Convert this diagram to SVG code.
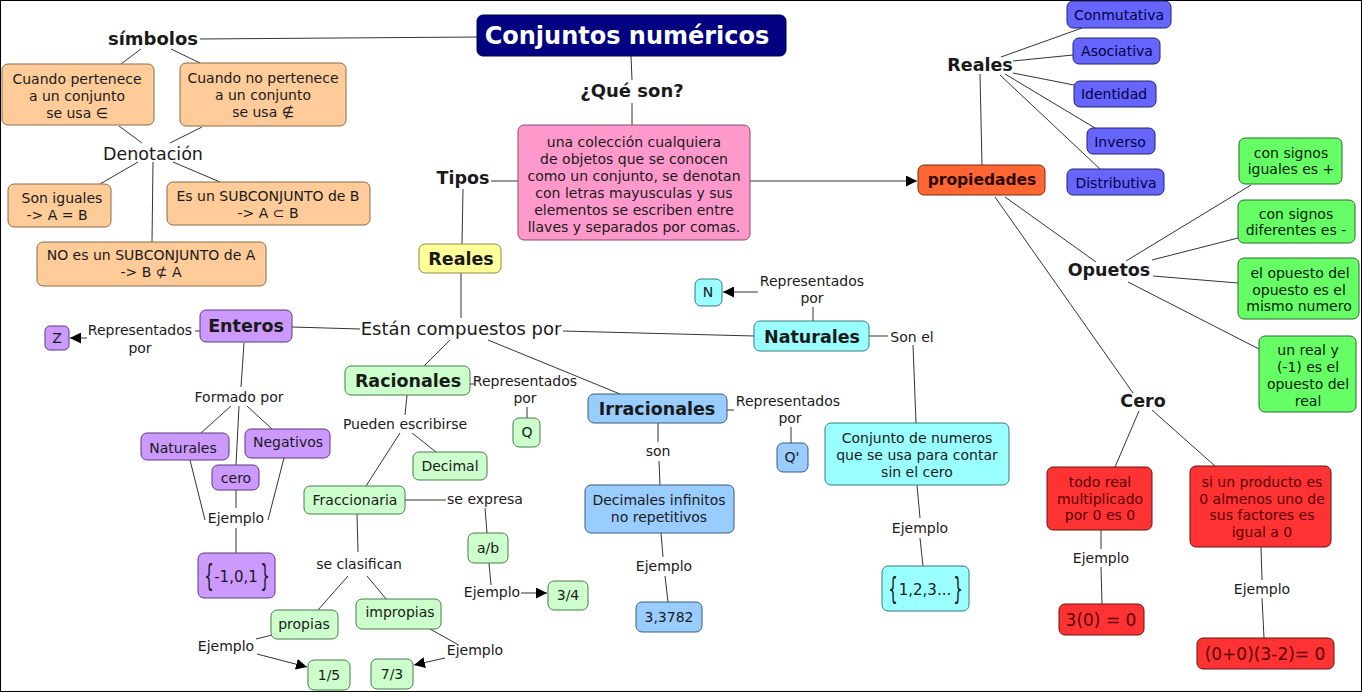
<svg xmlns="http://www.w3.org/2000/svg" width="1362" height="692" viewBox="0 0 1362 692">
<style>
text{font-family:"DejaVu Sans","Verdana",sans-serif;fill:#1a1a1a;text-anchor:middle}
.s{font-size:14px}
.s15{font-size:15px}
.m{font-size:17.5px}
.b{font-size:17.5px;font-weight:bold}
.big{font-size:17px}
.br{font-size:15px;font-weight:normal}
.title{font-size:24px;font-weight:bold;fill:#fff}
rect{stroke-width:1}
.peach{fill:#FFCC99;stroke:#8a6a4a}
.pink{fill:#FF99CC;stroke:#8a4a6a}
.yel{fill:#FFFF99;stroke:#8a8a4a}
.pur{fill:#CC99FF;stroke:#5a3a7a}
.lgr{fill:#CCFFCC;stroke:#4a7a4a}
.lbl{fill:#99CCFF;stroke:#3a5a7a}
.cy{fill:#99FFFF;stroke:#3a7a7a}
.blu{fill:#6666FF;stroke:#222266}
.org{fill:#FF6633;stroke:#7a2a10}
.grn{fill:#66FF66;stroke:#2a6a2a}
.red{fill:#FF3333;stroke:#6a1010}
.nav{fill:#000080;stroke:#000040}
.tb{fill:#000044}
.tr{fill:#5a0000}
.tg{fill:#002200}
#connectors line{stroke:#333;stroke-width:1;fill:none}
.arr{marker-end:url(#ah)}
</style>
<defs>
<marker id="ah" viewBox="0 0 10 10" refX="10" refY="5" markerWidth="11" markerHeight="11" markerUnits="userSpaceOnUse" orient="auto">
<path d="M0,0 L10,5 L0,10 z" fill="#000"/>
</marker>
</defs>
<rect x="0.5" y="0.5" width="1361" height="691" fill="#fff" stroke="#000" stroke-width="1"/>

<g id="connectors">
<line x1="200" y1="39" x2="477" y2="37"/>
<line x1="141" y1="49" x2="121" y2="64"/>
<line x1="171" y1="49" x2="200" y2="63"/>
<line x1="119" y1="126" x2="142" y2="143"/>
<line x1="202" y1="127" x2="170" y2="143"/>
<line x1="138" y1="162" x2="100" y2="184"/>
<line x1="153" y1="162" x2="152" y2="242"/>
<line x1="173" y1="162" x2="220" y2="182"/>
<line x1="631" y1="56" x2="632" y2="80"/>
<line x1="632" y1="103" x2="632" y2="125"/>
<line x1="491" y1="181" x2="518" y2="181"/>
<line x1="750" y1="181" x2="917" y2="181" class="arr"/>
<line x1="463" y1="189" x2="462" y2="244"/>
<line x1="461" y1="273" x2="461" y2="318"/>
<line x1="360" y1="329" x2="292" y2="327"/>
<line x1="563" y1="331" x2="754" y2="336"/>
<line x1="450" y1="340" x2="424" y2="366"/>
<line x1="488" y1="340" x2="620" y2="394"/>
<line x1="200" y1="331" x2="195" y2="331"/>
<line x1="87" y1="338" x2="70" y2="338" class="arr"/>
<line x1="244" y1="343" x2="241" y2="387"/>
<line x1="231" y1="406" x2="201" y2="433"/>
<line x1="239" y1="406" x2="236" y2="465"/>
<line x1="247" y1="406" x2="272" y2="429"/>
<line x1="190" y1="460" x2="205" y2="520"/>
<line x1="284" y1="458" x2="268" y2="520"/>
<line x1="236" y1="490" x2="236" y2="508"/>
<line x1="236" y1="528" x2="236" y2="553"/>
<line x1="470" y1="384" x2="474" y2="384"/>
<line x1="527" y1="407" x2="527" y2="418"/>
<line x1="407" y1="395" x2="405" y2="415"/>
<line x1="400" y1="433" x2="366" y2="486"/>
<line x1="412" y1="433" x2="436" y2="452"/>
<line x1="405" y1="500" x2="446" y2="500"/>
<line x1="485" y1="508" x2="487" y2="533"/>
<line x1="489" y1="563" x2="491" y2="585"/>
<line x1="521" y1="593" x2="547" y2="593" class="arr"/>
<line x1="357" y1="514" x2="358" y2="552"/>
<line x1="348" y1="576" x2="318" y2="610"/>
<line x1="367" y1="576" x2="387" y2="600"/>
<line x1="272" y1="635" x2="256" y2="639"/>
<line x1="257" y1="654" x2="307" y2="667" class="arr"/>
<line x1="430" y1="629" x2="457" y2="644"/>
<line x1="445" y1="658" x2="414" y2="665" class="arr"/>
<line x1="727" y1="410" x2="734" y2="410"/>
<line x1="791" y1="427" x2="791" y2="443"/>
<line x1="658" y1="423" x2="658" y2="442"/>
<line x1="659" y1="461" x2="660" y2="485"/>
<line x1="661" y1="533" x2="663" y2="557"/>
<line x1="665" y1="576" x2="668" y2="602"/>
<line x1="813" y1="307" x2="813" y2="321"/>
<line x1="758" y1="292" x2="723" y2="292" class="arr"/>
<line x1="869" y1="336" x2="888" y2="336"/>
<line x1="913" y1="345" x2="916" y2="423"/>
<line x1="917" y1="485" x2="920" y2="518"/>
<line x1="920" y1="538" x2="923" y2="566"/>
<line x1="1001" y1="57" x2="1082" y2="28"/>
<line x1="1013" y1="61" x2="1073" y2="55"/>
<line x1="1013" y1="73" x2="1074" y2="85"/>
<line x1="1005" y1="74" x2="1095" y2="128"/>
<line x1="1000" y1="75" x2="1100" y2="169"/>
<line x1="980" y1="74" x2="982" y2="165"/>
<line x1="1005" y1="197" x2="1096" y2="262"/>
<line x1="995" y1="197" x2="1133" y2="393"/>
<line x1="1126" y1="261" x2="1251" y2="185"/>
<line x1="1152" y1="260" x2="1238" y2="238"/>
<line x1="1153" y1="276" x2="1238" y2="283"/>
<line x1="1128" y1="282" x2="1259" y2="349"/>
<line x1="1139" y1="411" x2="1115" y2="467"/>
<line x1="1152" y1="410" x2="1215" y2="466"/>
<line x1="1101" y1="530" x2="1101" y2="549"/>
<line x1="1101" y1="567" x2="1102" y2="604"/>
<line x1="1261" y1="547" x2="1262" y2="580"/>
<line x1="1262" y1="598" x2="1264" y2="638"/>
</g>

<g id="title"><rect class="nav" x="477" y="15" width="309" height="41" rx="6"/><text class="title" x="627" y="44">Conjuntos numéricos</text></g>
<g id="simbolos"><text class="b" x="153" y="45" style="font-size:18px">símbolos</text></g>
<g id="pertenece"><rect class="peach" x="2" y="64" width="152" height="61" rx="6"/><text class="s" x="77" y="84">Cuando pertenece</text><text class="s" x="77" y="101">a un conjunto</text><text class="s" x="77" y="118">se usa ∈</text></g>
<g id="nopertenece"><rect class="peach" x="180" y="63" width="166" height="63" rx="6"/><text class="s" x="263" y="83">Cuando no pertenece</text><text class="s" x="263" y="100">a un conjunto</text><text class="s" x="263" y="117">se usa ∉</text></g>
<g id="denotacion"><text class="m" x="153" y="160">Denotación</text></g>
<g id="iguales"><rect class="peach" x="8" y="184" width="103" height="43" rx="6"/><text class="s" x="62" y="203">Son iguales</text><text class="s" x="57" y="220">-&gt; A = B</text></g>
<g id="subB"><rect class="peach" x="167" y="182" width="203" height="43" rx="6"/><text class="s" x="268" y="201">Es un SUBCONJUNTO de B</text><text class="s" x="268" y="218">-&gt; A ⊂ B</text></g>
<g id="nosubA"><rect class="peach" x="37" y="242" width="229" height="44" rx="6"/><text class="s" x="151" y="260">NO es un SUBCONJUNTO de A</text><text class="s" x="151" y="277">-&gt; B ⊄ A</text></g>

<g id="queson"><text class="b" x="632" y="97" style="font-size:18px">¿Qué son?</text></g>
<g id="definicion"><rect class="pink" x="518" y="125" width="232" height="115" rx="6"/>
<text class="s" x="634" y="147">una colección cualquiera</text>
<text class="s" x="634" y="164">de objetos que se conocen</text>
<text class="s" x="634" y="181">como un conjunto, se denotan</text>
<text class="s" x="634" y="198">con letras mayusculas y sus</text>
<text class="s" x="634" y="215">elementos se escriben entre</text>
<text class="s" x="634" y="232">llaves y separados por comas.</text></g>
<g id="tipos"><text class="b" x="463" y="184">Tipos</text></g>
<g id="reales"><rect class="yel" x="419" y="244" width="82" height="29" rx="6"/><text class="b" x="461" y="265">Reales</text></g>
<g id="compuestos"><text class="m" x="461" y="335" style="font-size:18px">Están compuestos por</text></g>

<g id="enteros"><rect class="pur" x="200" y="310" width="92" height="32" rx="6"/><text class="b" x="246" y="332">Enteros</text></g>
<g id="repZ"><text class="s" x="140" y="335">Representados</text><text class="s" x="140" y="353">por</text></g>
<g id="Z"><rect class="pur" x="45" y="326" width="24" height="24" rx="5"/><text class="s" x="57" y="343">Z</text></g>
<g id="formado"><text class="s" x="239" y="402">Formado por</text></g>
<g id="natE"><rect class="pur" x="141" y="433" width="88" height="27" rx="6"/><text class="s" x="183" y="453">Naturales</text></g>
<g id="neg"><rect class="pur" x="245" y="429" width="85" height="29" rx="6"/><text class="s" x="288" y="447">Negativos</text></g>
<g id="cero"><rect class="pur" x="212" y="465" width="47" height="25" rx="6"/><text class="s" x="236" y="483">cero</text></g>
<g id="ejE"><text class="s" x="236" y="523">Ejemplo</text></g>
<g id="ejEbox"><rect class="pur" x="198" y="553" width="77" height="45" rx="6"/><text class="br" transform="translate(209,586) scale(1,2)">{</text><text class="s15" x="236" y="582">-1,0,1</text><text class="br" transform="translate(265,586) scale(1,2)">}</text></g>

<g id="racionales"><rect class="lgr" x="345" y="366" width="125" height="29" rx="6"/><text class="b" x="408" y="387">Racionales</text></g>
<g id="repQ"><text class="s" x="525" y="386">Representados</text><text class="s" x="525" y="403">por</text></g>
<g id="Q"><rect class="lgr" x="513" y="418" width="27" height="29" rx="6"/><text class="s" x="527" y="437">Q</text></g>
<g id="pueden"><text class="s" x="405" y="429">Pueden escribirse</text></g>
<g id="decimal"><rect class="lgr" x="413" y="452" width="74" height="28" rx="6"/><text class="s" x="450" y="471">Decimal</text></g>
<g id="fracc"><rect class="lgr" x="304" y="486" width="101" height="28" rx="6"/><text class="s" x="355" y="505">Fraccionaria</text></g>
<g id="seexpresa"><text class="s" x="485" y="504">se expresa</text></g>
<g id="ab"><rect class="lgr" x="468" y="533" width="40" height="30" rx="6"/><text class="s" x="488" y="553">a/b</text></g>
<g id="ejab"><text class="s" x="492" y="597">Ejemplo</text></g>
<g id="tres4"><rect class="lgr" x="548" y="581" width="40" height="29" rx="6"/><text class="s" x="568" y="600">3/4</text></g>
<g id="seclas"><text class="s" x="359" y="569">se clasifican</text></g>
<g id="propias"><rect class="lgr" x="271" y="610" width="67" height="29" rx="6"/><text class="s" x="304" y="629">propias</text></g>
<g id="impropias"><rect class="lgr" x="356" y="599" width="85" height="30" rx="6"/><text class="s" x="400" y="617">impropias</text></g>
<g id="ejprop"><text class="s" x="226" y="651">Ejemplo</text></g>
<g id="ejimp"><text class="s" x="475" y="655">Ejemplo</text></g>
<g id="unquinto"><rect class="lgr" x="308" y="660" width="42" height="30" rx="6"/><text class="s" x="329" y="680">1/5</text></g>
<g id="sietetercios"><rect class="lgr" x="371" y="659" width="42" height="30" rx="6"/><text class="s" x="392" y="679">7/3</text></g>

<g id="irracionales"><rect class="lbl" x="588" y="394" width="139" height="29" rx="6"/><text class="b" x="657" y="415">Irracionales</text></g>
<g id="repQp"><text class="s" x="788" y="406">Representados</text><text class="s" x="790" y="423">por</text></g>
<g id="Qp"><rect class="lbl" x="777" y="443" width="31" height="29" rx="6"/><text class="s" x="792" y="462">Q'</text></g>
<g id="son"><text class="s" x="658" y="456">son</text></g>
<g id="decinf"><rect class="lbl" x="585" y="485" width="149" height="48" rx="6"/><text class="s" x="659" y="505">Decimales infinitos</text><text class="s" x="659" y="522">no repetitivos</text></g>
<g id="ejirr"><text class="s" x="664" y="571">Ejemplo</text></g>
<g id="num3378"><rect class="lbl" x="636" y="602" width="66" height="30" rx="6"/><text class="s" x="669" y="622">3,3782</text></g>

<g id="naturales"><rect class="cy" x="754" y="321" width="115" height="30" rx="6"/><text class="b" x="812" y="343">Naturales</text></g>
<g id="repN"><text class="s" x="812" y="286">Representados</text><text class="s" x="812" y="303">por</text></g>
<g id="N"><rect class="cy" x="695" y="279" width="27" height="27" rx="6"/><text class="s" x="708" y="297">N</text></g>
<g id="sonel"><text class="s" x="912" y="342">Son el</text></g>
<g id="conjnum"><rect class="cy" x="825" y="423" width="184" height="62" rx="6"/><text class="s" x="917" y="443">Conjunto de numeros</text><text class="s" x="917" y="460">que se usa para contar</text><text class="s" x="917" y="477">sin el cero</text></g>
<g id="ejnat"><text class="s" x="920" y="533">Ejemplo</text></g>
<g id="ejnatbox"><rect class="cy" x="882" y="566" width="87" height="45" rx="6"/><text class="br" transform="translate(893,599) scale(1,2)">{</text><text class="s15" x="925" y="595">1,2,3...</text><text class="br" transform="translate(958,599) scale(1,2)">}</text></g>

<g id="realesP"><text class="b" x="980" y="71">Reales</text></g>
<g id="conmut"><rect class="blu" x="1067" y="1" width="104" height="27" rx="6"/><text class="s tb" x="1119" y="20">Conmutativa</text></g>
<g id="asoc"><rect class="blu" x="1073" y="38" width="87" height="26" rx="6"/><text class="s tb" x="1117" y="56">Asociativa</text></g>
<g id="ident"><rect class="blu" x="1074" y="81" width="82" height="26" rx="6"/><text class="s tb" x="1114" y="99">Identidad</text></g>
<g id="inverso"><rect class="blu" x="1087" y="128" width="68" height="26" rx="6"/><text class="s tb" x="1120" y="147">Inverso</text></g>
<g id="distrib"><rect class="blu" x="1067" y="169" width="97" height="26" rx="6"/><text class="s tb" x="1116" y="188">Distributiva</text></g>
<g id="propiedades"><rect class="org" x="918" y="165" width="127" height="30" rx="6"/><text class="b" x="982" y="185" style="fill:#2a0800;font-size:15.5px">propiedades</text></g>
<g id="opuetos"><text class="b" x="1109" y="276">Opuetos</text></g>
<g id="op1"><rect class="grn" x="1239" y="138" width="103" height="46" rx="6"/><text class="s tg" x="1291" y="158">con signos</text><text class="s tg" x="1291" y="174">iguales es +</text></g>
<g id="op2"><rect class="grn" x="1238" y="200" width="117" height="43" rx="6"/><text class="s tg" x="1296" y="219">con signos</text><text class="s tg" x="1296" y="235">diferentes es -</text></g>
<g id="op3"><rect class="grn" x="1238" y="258" width="121" height="61" rx="6"/><text class="s tg" x="1300" y="278">el opuesto del</text><text class="s tg" x="1299" y="295">opuesto es el</text><text class="s tg" x="1299" y="311">mismo numero</text></g>
<g id="op4"><rect class="grn" x="1259" y="336" width="97" height="76" rx="6"/><text class="s tg" x="1308" y="355">un real y</text><text class="s tg" x="1308" y="372">(-1) es el</text><text class="s tg" x="1308" y="389">opuesto del</text><text class="s tg" x="1308" y="406">real</text></g>
<g id="ceroP"><text class="b" x="1143" y="407">Cero</text></g>
<g id="todoreal"><rect class="red" x="1047" y="467" width="105" height="63" rx="6"/><text class="s tr" x="1100" y="487">todo real</text><text class="s tr" x="1100" y="504">multiplicado</text><text class="s tr" x="1100" y="520">por 0 es 0</text></g>
<g id="ejcero1"><text class="s" x="1101" y="563">Ejemplo</text></g>
<g id="tres0"><rect class="red" x="1059" y="604" width="85" height="31" rx="6"/><text class="big tr" x="1101" y="626">3(0) = 0</text></g>
<g id="producto"><rect class="red" x="1190" y="466" width="141" height="81" rx="6"/><text class="s tr" x="1262" y="487">si un producto es</text><text class="s tr" x="1262" y="504">0 almenos uno de</text><text class="s tr" x="1262" y="520">sus factores es</text><text class="s tr" x="1262" y="537">igual a 0</text></g>
<g id="ejcero2"><text class="s" x="1262" y="594">Ejemplo</text></g>
<g id="prod0"><rect class="red" x="1197" y="638" width="137" height="31" rx="6"/><text class="big tr" x="1265" y="660">(0+0)(3-2)= 0</text></g>
</svg>
